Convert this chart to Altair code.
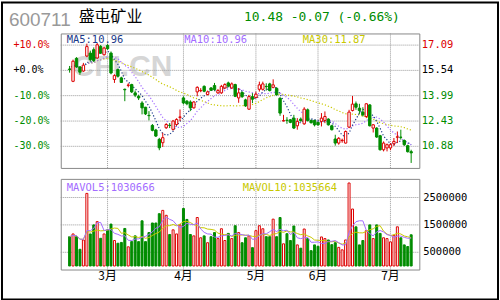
import altair as alt
import pandas as pd

# ---------------- data ----------------
opens = [15.62, 14.87, 16.28, 15.75, 15.50, 16.42, 16.60, 16.81, 16.30, 17.01,
         16.50, 17.07, 16.60, 14.98, 15.59, 15.08, 14.38, 14.62, 14.67, 14.16,
         13.95, 13.54, 13.28, 12.78, 12.16, 11.88, 11.31, 11.10, 12.02, 12.17,
         11.92, 12.22, 12.66, 13.85, 13.65, 13.60, 13.24, 14.22, 14.29, 14.56,
         14.06, 14.46, 14.61, 14.16, 14.16, 14.46, 14.77, 14.46, 14.67, 13.85,
         14.18, 13.73, 13.16, 13.93, 13.87, 14.38, 14.38, 14.56, 14.71, 14.50,
         14.44, 13.83, 12.44, 12.48, 12.51, 12.61, 12.14, 12.55, 12.26, 13.12,
         12.47, 12.47, 12.35, 12.41, 12.47, 12.55, 12.14, 11.33, 11.08, 11.23,
         11.08, 12.06, 13.08, 13.49, 13.22, 12.98, 12.71, 13.42, 12.00, 12.00,
         11.53, 10.67, 10.78, 10.78, 11.04, 11.44, 11.44, 11.24, 10.92, 10.55]
highs = [15.81, 16.20, 16.35, 15.80, 16.00, 17.18, 16.75, 16.95, 17.22, 17.10,
         17.00, 17.15, 16.70, 15.30, 15.65, 15.15, 14.42, 14.75, 14.72, 14.30,
         14.05, 13.65, 13.30, 13.04, 12.25, 11.95, 11.40, 11.71, 12.30, 12.30,
         12.50, 12.60, 13.14, 13.95, 13.72, 13.70, 13.65, 14.56, 14.45, 14.62,
         14.30, 14.52, 14.77, 14.40, 14.65, 14.75, 14.85, 14.80, 14.72, 14.46,
         14.25, 13.80, 14.04, 14.14, 14.24, 14.85, 14.85, 14.75, 14.78, 14.99,
         14.50, 13.89, 12.81, 12.67, 12.55, 12.81, 12.61, 12.65, 13.28, 13.20,
         12.52, 12.50, 12.40, 12.92, 13.02, 12.60, 12.20, 11.59, 11.45, 11.35,
         11.85, 13.12, 13.97, 13.63, 13.49, 13.28, 13.53, 13.47, 12.25, 12.05,
         11.58, 11.18, 11.05, 11.08, 11.39, 11.79, 11.90, 11.30, 10.98, 10.67]
lows = [15.40, 14.82, 15.70, 15.27, 15.45, 16.35, 16.10, 16.05, 16.25, 16.55,
        16.45, 16.80, 15.30, 14.77, 15.10, 14.77, 13.65, 14.50, 14.15, 13.90,
        13.72, 12.84, 12.80, 12.47, 11.80, 11.45, 10.64, 10.84, 11.95, 12.00,
        11.85, 12.15, 12.43, 13.45, 13.40, 13.04, 13.20, 13.95, 14.20, 14.20,
        14.00, 14.28, 14.30, 14.10, 14.10, 14.40, 14.50, 14.40, 13.90, 13.55,
        13.85, 13.30, 13.12, 13.53, 13.83, 14.24, 14.30, 14.30, 14.25, 14.44,
        14.00, 12.75, 12.40, 12.26, 12.30, 11.94, 11.90, 12.40, 12.20, 12.40,
        12.28, 12.10, 12.15, 12.10, 12.30, 12.15, 11.85, 10.92, 10.98, 11.10,
        11.05, 12.00, 13.02, 13.12, 12.87, 12.71, 12.61, 12.10, 11.73, 11.40,
        10.62, 10.57, 10.57, 10.64, 10.90, 11.08, 11.29, 10.90, 10.50, 9.86]
closes = [15.59, 16.10, 15.75, 15.43, 15.86, 17.00, 16.20, 16.14, 17.11, 16.60,
          16.91, 16.87, 15.38, 15.22, 15.18, 14.80, 14.35, 14.64, 14.22, 14.02,
          13.85, 13.24, 12.87, 12.76, 11.86, 11.51, 10.79, 11.41, 12.22, 12.16,
          12.43, 12.53, 12.68, 13.54, 13.49, 13.24, 13.60, 14.50, 14.31, 14.26,
          14.22, 14.32, 14.36, 14.30, 14.56, 14.67, 14.57, 14.71, 13.95, 14.16,
          13.93, 13.36, 13.93, 13.77, 14.08, 14.65, 14.71, 14.54, 14.30, 14.65,
          14.04, 12.92, 12.46, 12.47, 12.35, 12.00, 12.41, 12.45, 13.16, 12.47,
          12.33, 12.20, 12.20, 12.61, 12.71, 12.20, 11.90, 11.08, 11.37, 11.25,
          11.79, 12.98, 13.47, 13.28, 13.08, 12.81, 13.49, 12.14, 12.20, 11.45,
          10.67, 11.08, 10.98, 10.98, 11.18, 11.46, 11.43, 10.98, 10.55, 10.48]
volumes_m = [1.07, 1.17, 1.07, 0.61, 0.95, 2.65, 1.17, 1.50, 1.62, 1.01,
             1.17, 1.32, 1.53, 0.93, 0.83, 0.86, 1.37, 0.70, 0.89, 1.10,
             0.89, 1.65, 0.89, 1.22, 1.57, 1.57, 1.91, 2.03, 1.85, 1.15,
             1.32, 1.17, 1.50, 2.10, 1.70, 1.15, 1.10, 1.77, 1.03, 1.10,
             0.85, 1.07, 1.22, 1.00, 1.36, 0.93, 1.19, 1.00, 1.47, 1.22,
             0.85, 1.03, 1.10, 0.67, 1.29, 1.47, 1.36, 1.07, 1.07, 1.71,
             1.07, 1.77, 0.81, 1.18, 0.93, 1.46, 0.77, 0.65, 1.35, 1.00,
             0.56, 0.77, 0.72, 1.06, 1.00, 0.95, 0.78, 0.85, 0.68, 0.59,
             0.95, 3.03, 2.08, 1.43, 0.77, 0.93, 1.29, 1.50, 1.00, 1.50,
             1.19, 1.03, 1.00, 0.88, 1.12, 1.43, 1.03, 0.77, 0.71, 1.14]

month_idx = [11, 33, 54, 72, 93]
month_lbl = ["3月", "4月", "5月", "6月", "7月"]
price_ticks = [17.09, 15.54, 13.99, 12.43, 10.88]
price_lbl = ["17.09", "15.54", "13.99", "12.43", "10.88"]
pct_val = [10, 0, -10, -20, -30]
pct_lbl = ["+10.0%", "+0.0%", "-10.0%", "-20.0%", "-30.0%"]
vol_ticks = [2500000, 1500000, 500000]
vol_lbl = ["2500000", "1500000", "500000"]
ma_text = ["MA5:10.96", "MA10:10.96", "MA30:11.87"]
mavol_text = ["MAVOL5:1030666", "MAVOL10:1035664"]
code_text = "600711"
name_text = "盛屯矿业"
quote_text = "10.48 -0.07 (-0.66%)"
watermark = "CFI.CN"

# ---------------- styles ----------------
RED = "#dd0000"
GREEN = "#008c00"
C_MA5 = "#1a3a8a"
C_MA10 = "#a36cff"
C_MA30 = "#c8c800"
GRID = "#999999"
MONO = "DejaVu Sans Mono"
W, H1, H2 = 360, 135, 91

df = pd.DataFrame({"i": list(range(len(closes))), "o": opens, "h": highs,
                   "l": lows, "c": closes,
                   "v": [round(v * 1e6) for v in volumes_m]})
xs = alt.Scale(domain=[-1.12, 99.92], nice=False, zero=False)
ys = alt.Scale(domain=[9.554, 17.805], nice=False, zero=False)
vs = alt.Scale(domain=[-129000, 3180000], nice=False, zero=False)
X = alt.X("i:Q", scale=xs, axis=None)
up = "datum.c >= datum.o"


def txt(s, x, y, color, size, font, align="left", baseline="alphabetic"):
    return alt.Chart(pd.DataFrame({"t": [s]})).mark_text(
        align=align, baseline=baseline, font=font, fontSize=size, color=color
    ).encode(x=alt.value(x), y=alt.value(y), text="t:N")


one = pd.DataFrame({"a": [0]})
frame = alt.Chart(one).mark_rect(filled=False, stroke="black", strokeWidth=2).encode(
    x=alt.value(-59), x2=alt.value(439), y=alt.value(-31), y2=alt.value(267))

wm = alt.Chart(pd.DataFrame({"t": [watermark]})).mark_text(
    align="left", baseline="alphabetic", font="Liberation Sans", fontSize=30,
    fontWeight="bold", color="#d6d6d6").encode(x=alt.value(12), y=alt.value(43), text="t:N")

ticks_df = pd.DataFrame({"p": price_ticks, "pl": price_lbl, "pv": pct_val, "pc": pct_lbl})
months_df = pd.DataFrame({"i": month_idx, "m": month_lbl})
vt_df = pd.DataFrame({"v": vol_ticks, "vl": vol_lbl})

hgrid = alt.Chart(ticks_df).mark_rule(color=GRID, strokeDash=[1, 1], strokeWidth=1).encode(
    y=alt.Y("p:Q", scale=ys, axis=None), x=alt.value(0), x2=alt.value(W))
vgrid1 = alt.Chart(months_df).mark_rule(color=GRID, strokeDash=[1, 1], strokeWidth=1).encode(
    x=alt.X("i:Q", scale=xs, axis=None), y=alt.value(0), y2=alt.value(H1))

base = alt.Chart(df)


def ma_line(n, color, dash):
    return base.transform_window(
        m="mean(c)", frame=[-(n - 1), 0], sort=[alt.SortField("i")]
    ).mark_line(color=color, strokeDash=dash, strokeWidth=1.2).encode(
        x=X, y=alt.Y("m:Q", scale=ys, axis=None), order="i:Q")


ma5 = ma_line(5, C_MA5, [1.2, 2])
ma10 = ma_line(10, C_MA10, [1.2, 2])
ma30 = ma_line(30, C_MA30, [1.2, 2])

wicks = base.mark_rule(strokeWidth=1).encode(
    x=X, y=alt.Y("l:Q", scale=ys, axis=None), y2="h:Q",
    color=alt.condition(up, alt.value(RED), alt.value(GREEN)))
bodies = base.mark_bar(size=2.4, strokeWidth=1).encode(
    x=X, y=alt.Y("o:Q", scale=ys, axis=None), y2="c:Q",
    fill=alt.condition(up, alt.value("white"), alt.value(GREEN)),
    stroke=alt.condition(up, alt.value(RED), alt.value(GREEN)))

pct_text = alt.Chart(ticks_df).transform_calculate(
    col=f"datum.pv > 0 ? '{RED}' : (datum.pv == 0 ? 'black' : '{GREEN}')"
).mark_text(align="left", baseline="middle", font=MONO, fontSize=10).encode(
    y=alt.Y("p:Q", scale=ys, axis=None), x=alt.value(-47.5), text="pc:N",
    color=alt.Color("col:N", scale=None))
price_text = alt.Chart(ticks_df).transform_calculate(
    col=f"datum.pv > 0 ? '{RED}' : (datum.pv == 0 ? 'black' : '{GREEN}')"
).mark_text(align="left", baseline="middle", font=MONO, fontSize=10.5).encode(
    y=alt.Y("p:Q", scale=ys, axis=None), x=alt.value(362.5), text="pl:N",
    color=alt.Color("col:N", scale=None))

top = alt.layer(
    frame, wm, hgrid, vgrid1, ma30, ma10, ma5, wicks, bodies,
    txt(ma_text[0], 6, 10, C_MA5, 10.5, MONO),
    txt(ma_text[1], 124, 10, C_MA10, 10.5, MONO),
    txt(ma_text[2], 243, 10, C_MA30, 10.5, MONO),
    pct_text, price_text,
    txt(code_text, -52, -8, "#999999", 19, "Liberation Sans"),
    txt(name_text, 18, -11.5, "black", 16, "Noto Sans CJK SC"),
    txt(quote_text, 184, -12.5, GREEN, 13, MONO),
).properties(width=W, height=H1)

# ---------------- volume panel ----------------
hgrid2 = alt.Chart(vt_df).mark_rule(color=GRID, strokeDash=[1, 1], strokeWidth=1).encode(
    y=alt.Y("v:Q", scale=vs, axis=None), x=alt.value(0), x2=alt.value(W))
vgrid2 = alt.Chart(months_df).mark_rule(color=GRID, strokeDash=[1, 1], strokeWidth=1).encode(
    x=alt.X("i:Q", scale=xs, axis=None), y=alt.value(0), y2=alt.value(H2))
vbars = base.mark_bar(size=2, strokeWidth=1).encode(
    x=X, y=alt.Y("v:Q", scale=vs, axis=None), y2=alt.value(H2),
    fill=alt.condition(up, alt.value("white"), alt.value(GREEN)),
    stroke=alt.condition(up, alt.value(RED), alt.value(GREEN)))


def mavol(n, color):
    return base.transform_window(
        m="mean(v)", frame=[-(n - 1), 0], sort=[alt.SortField("i")]
    ).mark_line(color=color, strokeWidth=1).encode(
        x=X, y=alt.Y("m:Q", scale=vs, axis=None), order="i:Q")


vol_text = alt.Chart(vt_df).mark_text(align="left", baseline="middle", font=MONO,
                                      fontSize=10.5, color="black").encode(
    y=alt.Y("v:Q", scale=vs, axis=None), x=alt.value(364), text="vl:N")
month_text = alt.Chart(months_df).mark_text(align="center", baseline="top",
                                            font="Noto Sans CJK SC", fontSize=12,
                                            color="black").encode(
    x=alt.X("i:Q", scale=xs, axis=None), y=alt.value(H2 + 2), text="m:N")

bottom = alt.layer(
    hgrid2, vgrid2, vbars, mavol(10, C_MA30), mavol(5, C_MA10),
    txt(mavol_text[0], 6, 12, C_MA10, 10.5, MONO),
    txt(mavol_text[1], 182.7, 12, C_MA30, 10.5, MONO),
    vol_text, month_text,
).properties(width=W, height=H2)

chart = alt.vconcat(top, bottom, spacing=11, bounds="flush", padding=0).properties(
    background="white"
).configure_view(stroke="#888888", strokeWidth=1)

chart.save("out.html", embed_options={"renderer": "svg", "actions": False})
